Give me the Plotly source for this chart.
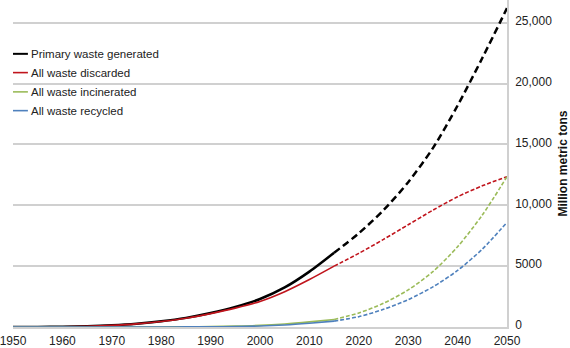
import plotly.graph_objects as go

# ---- data (Million metric tons, cumulative) ----
years_hist = [1950, 1955, 1960, 1965, 1970, 1975, 1980, 1985, 1990, 1995, 2000, 2005, 2010, 2015]
years_proj = [2015, 2020, 2025, 2030, 2035, 2040, 2045, 2050]

primary_hist = [0, 5, 20, 60, 140, 270, 470, 750, 1150, 1650, 2300, 3250, 4550, 6100]
primary_proj = [6100, 7700, 9600, 11900, 14700, 18200, 22100, 26200]

discarded_hist = [0, 5, 20, 58, 135, 260, 450, 720, 1100, 1550, 2100, 2900, 3900, 5000]
discarded_proj = [5000, 6050, 7200, 8400, 9600, 10700, 11600, 12350]

incinerated_hist = [0, 0, 0, 0, 0, 2, 5, 12, 30, 70, 130, 250, 420, 620]
incinerated_proj = [620, 1150, 1950, 3050, 4550, 6600, 9200, 12350]

recycled_hist = [0, 0, 0, 0, 0, 1, 3, 8, 15, 35, 80, 170, 310, 480]
recycled_proj = [480, 850, 1450, 2250, 3300, 4650, 6400, 8600]

series_names = ["Primary waste generated", "All waste discarded", "All waste incinerated", "All waste recycled"]
hist = [primary_hist, discarded_hist, incinerated_hist, recycled_hist]
proj = [primary_proj, discarded_proj, incinerated_proj, recycled_proj]
colors = ["#000000", "#C0141C", "#9BBB59", "#4F81BD"]
widths = [2.5, 1.6, 1.6, 1.6]
dashes = ["7px,4px", "4px,2px", "4px,2px", "4px,2px"]

x_ticks = list(range(1950, 2051, 10))
y_ticks = [0, 5000, 10000, 15000, 20000, 25000]
y_ticktext = ["0", "5000", "10,000", "15,000", "20,000", "25,000"]

W, H = 570, 348
ML, MR, MT, MB = 10, 63, 0, 17
PW, PH = W - ML - MR, H - MT - MB

def px_x(px):
    return (px - ML) / PW

def px_y(py):
    return 1 - (py - MT) / PH

fig = go.Figure()
for name, h, p, c, w, d in zip(series_names, hist, proj, colors, widths, dashes):
    fig.add_trace(go.Scatter(x=years_hist, y=h, mode="lines", name=name,
                             line=dict(color=c, width=w, shape="spline", smoothing=0.8),
                             showlegend=False))
    fig.add_trace(go.Scatter(x=years_proj, y=p, mode="lines", name=name + " (projected)",
                             line=dict(color=c, width=w, dash=d, shape="spline", smoothing=0.8),
                             showlegend=False))

# manual legend (white box, line samples, text)
shapes = [dict(type="rect", xref="paper", yref="paper", layer="between",
               x0=px_x(0), x1=px_x(158), y0=px_y(124), y1=px_y(44),
               fillcolor="white", line=dict(width=0))]
annotations = []
legend_y = [54.5, 73.5, 93, 112]
for name, c, w, ly in zip(series_names, colors, widths, legend_y):
    shapes.append(dict(type="line", xref="paper", yref="paper",
                       x0=px_x(10), x1=px_x(25), y0=px_y(ly), y1=px_y(ly),
                       line=dict(color=c, width=min(w, 2))))
    annotations.append(dict(text=name, xref="paper", yref="paper",
                            x=px_x(26), y=px_y(ly), xanchor="left", yanchor="middle",
                            showarrow=False, font=dict(size=11.5, color="#222222")))

fig.update_layout(
    width=W, height=H,
    margin=dict(l=ML, r=MR, t=MT, b=MB),
    paper_bgcolor="white", plot_bgcolor="white",
    font=dict(family="Liberation Sans, Arial, sans-serif", size=12, color="#222222"),
    showlegend=False,
    shapes=shapes,
    annotations=annotations,
    xaxis=dict(range=[1950, 2050], tickvals=x_ticks, ticks="", showgrid=False,
               showline=True, linecolor="#d0d0d0", linewidth=1.5, zeroline=False,
               ticklabeloverflow="allow", ticklabelstandoff=2,
               tickfont=dict(size=12, color="#222222")),
    yaxis=dict(range=[0, 26870], side="right", tickvals=y_ticks, ticktext=y_ticktext,
               ticks="", showgrid=True, gridcolor="#d0d0d0", gridwidth=1.5,
               showline=True, linecolor="#d0d0d0", linewidth=1.5, zeroline=False,
               ticklabelstandoff=4, ticklabelshift=-2,
               tickfont=dict(size=12, color="#222222"),
               title=dict(text="<b>Million metric tons</b>", font=dict(size=12, color="#111111"),
                          standoff=9)),
)

fig.write_html("out.html")
